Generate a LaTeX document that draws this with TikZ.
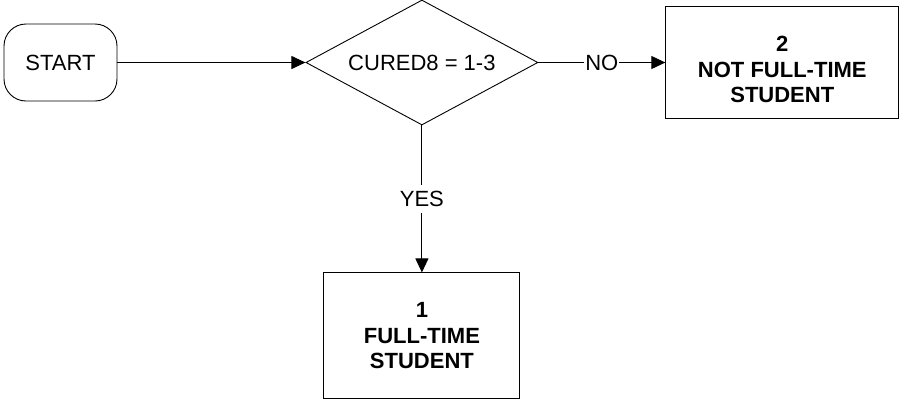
\documentclass[tikz,border=0pt]{standalone}
\usepackage{fontspec}
\setmainfont{Liberation Sans}
\usepackage{tikz}
\usetikzlibrary{shapes.geometric, arrows.meta, positioning}
\tikzset{
  terminal/.style={rectangle, draw=black, rounded corners=22pt, minimum width=113pt,
    minimum height=77pt, inner sep=0pt, font=\fontsize{22pt}{25.5pt}\selectfont, line width=0.9pt},
  decision/.style={diamond, draw=black, aspect=1.856, minimum width=232pt, minimum height=125pt,
    inner sep=0pt, font=\fontsize{22pt}{25.5pt}\selectfont, line width=0.9pt},
  arrow/.style={-{Triangle[length=14pt, width=13pt]}, line width=0.9pt, color=black}
}

\begin{document}
\begin{tikzpicture}[
  result/.style={rectangle, draw=black, inner sep=0pt, line width=0.9pt},
  restext/.style={align=center, font=\fontsize{22pt}{25.5pt}\selectfont\bfseries},
  answer/.style={fill=white, inner xsep=1pt, inner ysep=6pt, font=\fontsize{22pt}{25.5pt}\selectfont}
]
\useasboundingbox (0pt,0pt) rectangle (900pt,-402pt);

%--- start and question ---
\node[terminal] (start) at (60.5pt,-62.5pt) {START};
\node[decision, right=188pt of start] (cured) {CURED8 = 1-3};

%--- outcomes ---
\node[result, minimum width=233pt, minimum height=112pt, right=127pt of cured] (notft) {};
\node[restext] (notftlbl) at ([yshift=-7pt]notft.center) {2\\NOT FULL-TIME\\STUDENT};
\node[result, minimum width=196pt, minimum height=126pt, below=147pt of cured] (fulltime) {};
\node[restext] (ftlbl) at (fulltime.center) {1\\FULL-TIME\\STUDENT};

%--- connectors ---
\draw[arrow] (start) -- (cured);
\draw[arrow] (cured.east) -- node[answer] {NO} (notft.west);
\draw[arrow] (cured.south) -- node[answer] {YES} (fulltime.north);
\end{tikzpicture}
\end{document}
